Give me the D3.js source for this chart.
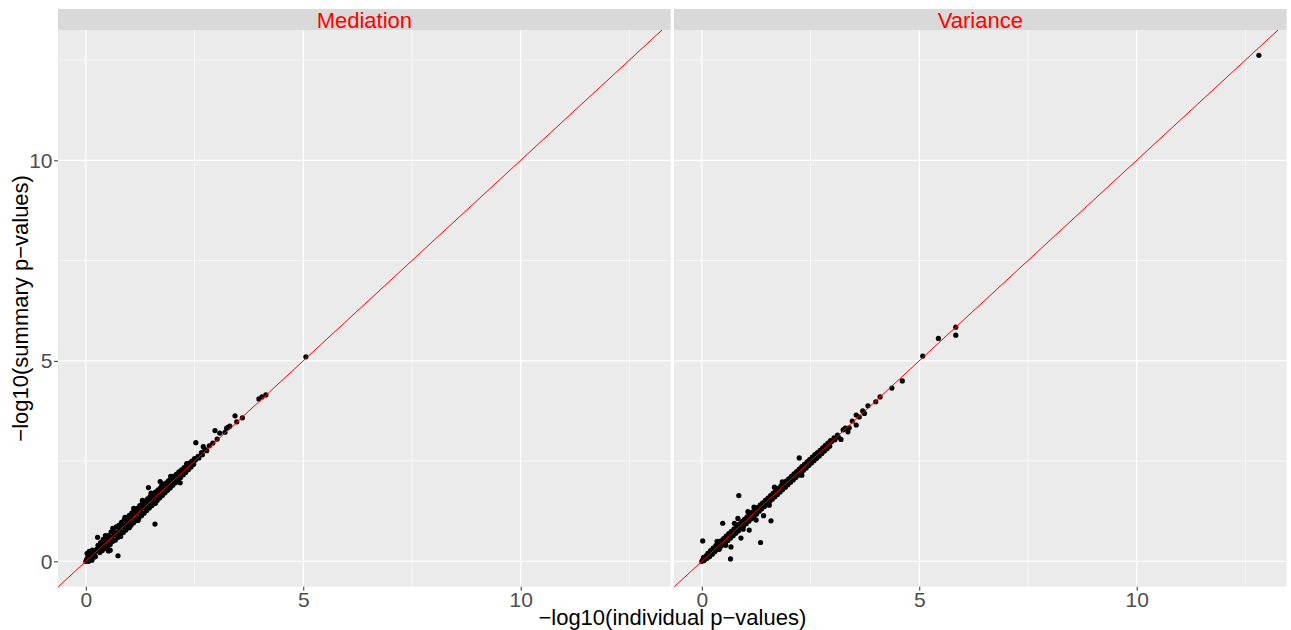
<!DOCTYPE html>
<html>
<head>
<meta charset="utf-8">
<script src="https://cdn.jsdelivr.net/npm/d3@7"></script>
<style>
  body { margin: 0; background: #fff; }
  svg { display: block; font-family: "Liberation Sans", Arial, sans-serif; }
  .tick text { fill: #4d4d4d; font-size: 21px; }
  .tick line { stroke: #333; }
</style>
</head>
<body>
<svg></svg>
<script>
const width = 1291;
const height = 630;

const facetNames = ['Mediation', 'Variance'];
const majorTicks = [0, 5, 10];
const minorTicks = [2.5, 7.5, 12.5];
const xDomain = [-0.64, 13.45];
const yDomain = [-0.632, 13.25];

// [individual, summary] -log10 p-values
const medPoints = [
  [0,0],[0.02,0.05],[0.05,0.12],[0.03,0.2],[0.08,0.25],[0.1,0.05],[0.12,0.15],[0.15,0.28],
  [0.18,0.1],[0.2,0.22],[0.06,0.0],[0.14,0.03],[0.22,0.12],[0.25,0.3],[0.04,0.08],[0.09,0.02],
  [0.28,0.40],[0.30,0.30],[0.32,0.22],[0.34,0.47],[0.36,0.36],[0.38,0.27],
  [0.40,0.55],[0.42,0.43],[0.44,0.32],[0.46,0.60],[0.48,0.47],[0.50,0.38],
  [0.52,0.64],[0.54,0.55],[0.56,0.42],[0.58,0.73],[0.60,0.60],[0.62,0.50],
  [0.64,0.78],[0.66,0.67],[0.68,0.53],[0.70,0.86],[0.72,0.72],[0.74,0.60],
  [0.76,0.90],[0.78,0.79],[0.80,0.66],[0.82,0.97],[0.84,0.85],[0.86,0.72],
  [0.88,1.03],[0.90,0.90],[0.92,0.78],[0.94,1.09],[0.96,0.97],[0.98,0.85],
  [1.00,1.15],[1.02,1.02],[1.04,0.90],[1.06,1.21],[1.08,1.09],[1.10,0.96],
  [1.12,1.27],[1.14,1.14],[1.16,1.02],[1.18,1.32],[1.20,1.21],[1.22,1.08],
  [1.24,1.39],[1.26,1.26],[1.28,1.14],[1.30,1.44],[1.32,1.33],[1.34,1.20],
  [1.36,1.50],[1.38,1.38],[1.40,1.27],[1.42,1.56],[1.44,1.45],[1.46,1.33],
  [1.48,1.62],[1.50,1.50],[1.52,1.39],[1.54,1.67],[1.56,1.57],[1.58,1.45],
  [1.60,1.73],[1.62,1.62],[1.64,1.52],[1.66,1.78],[1.68,1.69],[1.70,1.58],
  [1.72,1.84],[1.74,1.74],[1.76,1.64],[1.78,1.89],[1.80,1.81],[1.82,1.71],
  [1.84,1.95],[1.86,1.86],[1.88,1.77],[1.90,2.01],[1.92,1.93],[1.94,1.83],
  [1.96,2.06],[1.98,1.98],[2.00,1.90],[2.02,2.12],[2.04,2.05],[2.06,1.96],
  [2.08,2.17],[2.10,2.10],[2.12,2.03],[2.14,2.23],[2.16,2.17],[2.18,2.09],
  [2.20,2.28],[2.22,2.22],[2.24,2.16],[2.26,2.34],[2.28,2.29],[2.30,2.22],
  [2.32,2.39],[2.34,2.34],[2.36,2.29],[2.38,2.45],[2.40,2.41],[2.42,2.35],
  [2.44,2.50],[2.46,2.46],[2.48,2.42],[2.50,2.56],[2.52,2.53],
  [2.58,2.62],[2.60,2.58],[2.66,2.71],[2.68,2.66],[2.74,2.79],[2.78,2.76],
  [2.84,2.88],[2.92,2.95],[2.70,2.86],[3.02,3.05],
  [2.97,3.26],[3.08,3.20],[3.24,3.32],[3.27,3.34],[3.31,3.37],[3.20,3.22],
  [3.43,3.63],[3.47,3.48],[3.60,3.58],[3.98,4.05],[4.05,4.10],[4.14,4.15],[5.06,5.10],
  [0.62,0.82],[0.90,1.10],[1.10,1.32],[1.30,1.52],[1.50,1.70],[1.75,1.93],
  [0.80,0.62],[1.20,1.02],[1.00,0.84],[1.60,1.45],[0.45,0.64],[1.95,2.12],
  [0.27,0.60],[0.52,0.26],[0.56,0.28],[0.74,0.14],[1.44,1.84],[1.59,0.93],
  [2.53,2.96],[2.17,1.96],[1.71,1.99],[2.32,2.44]
];

const varPoints = [
  [0,0],[0.02,0.04],[0.05,0.02],[0.04,0.10],[0.08,0.06],[0.10,0.14],[0.12,0.08],
  [0.14,0.20],[0.16,0.15],[0.18,0.12],[0.20,0.27],[0.22,0.22],[0.24,0.18],
  [0.26,0.33],[0.28,0.28],[0.30,0.24],[0.32,0.39],[0.34,0.34],[0.36,0.30],
  [0.38,0.45],[0.40,0.40],[0.42,0.35],[0.44,0.51],[0.46,0.46],[0.48,0.41],
  [0.50,0.57],[0.52,0.52],[0.54,0.46],[0.56,0.63],[0.58,0.58],[0.60,0.52],
  [0.62,0.69],[0.64,0.64],[0.66,0.58],[0.68,0.75],[0.70,0.70],[0.72,0.64],
  [0.74,0.81],[0.76,0.76],[0.78,0.70],[0.80,0.87],[0.82,0.82],[0.84,0.76],
  [0.86,0.93],[0.88,0.88],[0.90,0.82],[0.92,0.99],[0.94,0.94],[0.96,0.88],
  [0.98,1.05],[1.00,1.00],[1.02,0.94],[1.04,1.11],[1.06,1.06],[1.08,1.00],
  [1.10,1.17],[1.12,1.12],[1.14,1.06],[1.16,1.23],[1.18,1.18],[1.20,1.12],
  [1.22,1.29],[1.24,1.24],[1.26,1.18],[1.28,1.34],[1.30,1.30],[1.32,1.25],
  [1.34,1.40],[1.36,1.36],[1.38,1.31],[1.40,1.46],[1.42,1.42],[1.44,1.37],
  [1.46,1.52],[1.48,1.48],[1.50,1.43],[1.52,1.58],[1.54,1.54],[1.56,1.49],
  [1.58,1.64],[1.60,1.60],[1.62,1.55],[1.64,1.70],[1.66,1.66],[1.68,1.61],
  [1.70,1.76],[1.72,1.72],[1.74,1.67],[1.76,1.82],[1.78,1.78],[1.80,1.73],
  [1.82,1.88],[1.84,1.84],[1.86,1.79],[1.88,1.94],[1.90,1.90],[1.92,1.85],
  [1.94,2.00],[1.96,1.96],[1.98,1.91],[2.00,2.06],[2.02,2.02],[2.04,1.97],
  [2.06,2.12],[2.08,2.08],[2.10,2.03],[2.12,2.18],[2.14,2.14],[2.16,2.09],
  [2.18,2.24],[2.20,2.20],[2.22,2.15],[2.24,2.30],[2.26,2.26],[2.28,2.21],
  [2.30,2.36],[2.32,2.32],[2.34,2.27],[2.36,2.42],[2.38,2.38],[2.40,2.33],
  [2.42,2.48],[2.44,2.44],[2.46,2.39],[2.48,2.54],[2.50,2.50],[2.52,2.45],
  [2.54,2.60],[2.56,2.56],[2.58,2.51],[2.60,2.66],[2.62,2.62],[2.64,2.57],
  [2.66,2.71],[2.68,2.68],[2.70,2.63],[2.72,2.77],[2.74,2.74],[2.76,2.69],
  [2.78,2.83],[2.80,2.80],[2.82,2.75],[2.84,2.89],[2.86,2.86],[2.88,2.81],
  [2.90,2.95],[2.92,2.92],[2.94,2.87],[2.96,3.01],[2.98,2.98],
  [3.04,3.08],[3.06,3.03],[3.12,3.15],[3.14,3.10],
  [3.20,3.04],[3.36,3.23],[3.39,3.33],[3.55,3.40],[3.55,3.65],[3.74,3.69],[3.82,3.88],
  [3.46,3.50],[3.62,3.60],[3.30,3.32],[3.25,3.28],[3.70,3.75],[4.00,3.98],
  [4.10,4.10],[4.37,4.32],[4.61,4.50],[5.08,5.12],[5.44,5.56],[5.84,5.84],[5.84,5.64],
  [12.81,12.62],
  [0.35,0.50],[0.55,0.40],[0.75,0.95],[0.95,0.80],[1.20,1.35],[1.25,1.03],[0.40,0.30],
  [1.55,1.40],[1.85,1.98],[2.30,2.15],[1.09,0.78],[1.67,1.85],
  [0.02,0.51],[0.85,1.64],[0.48,0.95],[0.83,1.07],[0.66,0.06],[0.67,0.36],[1.35,0.47],
  [0.90,0.58],[1.42,1.14],[1.59,1.01],[2.24,2.58],[1.06,1.24]
];

const facetData = [medPoints, varPoints];

const panelW = 612.7;
const panelLefts = [58, 674];
const panelTop = 30;
const panelBottom = 586.7;
const stripTop = 9;

const svg = d3.select('svg')
  .attr('width', width)
  .attr('height', height);

svg.append('rect')
  .attr('width', width)
  .attr('height', height)
  .attr('fill', '#fff');

const yScale = d3.scaleLinear()
  .domain(yDomain)
  .range([panelBottom, panelTop]);

facetNames.forEach((name, i) => {
  const left = panelLefts[i];
  const xScale = d3.scaleLinear()
    .domain(xDomain)
    .range([left, left + panelW]);

  const g = svg.append('g').attr('class', 'panel');

  g.append('rect')
    .attr('x', left)
    .attr('y', panelTop)
    .attr('width', panelW)
    .attr('height', panelBottom - panelTop)
    .attr('fill', '#ebebeb');

  // grid
  g.selectAll('.vminor').data(minorTicks).enter().append('line')
    .attr('x1', d => xScale(d)).attr('x2', d => xScale(d))
    .attr('y1', panelTop).attr('y2', panelBottom)
    .attr('stroke', '#fff').attr('stroke-width', 0.6);
  g.selectAll('.hminor').data(minorTicks).enter().append('line')
    .attr('x1', left).attr('x2', left + panelW)
    .attr('y1', d => yScale(d)).attr('y2', d => yScale(d))
    .attr('stroke', '#fff').attr('stroke-width', 0.6);
  g.selectAll('.vmajor').data(majorTicks).enter().append('line')
    .attr('x1', d => xScale(d)).attr('x2', d => xScale(d))
    .attr('y1', panelTop).attr('y2', panelBottom)
    .attr('stroke', '#fff').attr('stroke-width', 1.2);
  g.selectAll('.hmajor').data(majorTicks).enter().append('line')
    .attr('x1', left).attr('x2', left + panelW)
    .attr('y1', d => yScale(d)).attr('y2', d => yScale(d))
    .attr('stroke', '#fff').attr('stroke-width', 1.2);

  const clipId = 'clip' + i;
  svg.append('clipPath').attr('id', clipId)
    .append('rect')
    .attr('x', left).attr('y', panelTop)
    .attr('width', panelW).attr('height', panelBottom - panelTop);

  g.append('g')
    .attr('clip-path', `url(#${clipId})`)
    .selectAll('circle')
    .data(facetData[i])
    .enter().append('circle')
    .attr('cx', d => xScale(d[0]))
    .attr('cy', d => yScale(d[1]))
    .attr('r', 2.6)
    .attr('fill', '#000');

  // y = x reference line
  g.append('line')
    .attr('clip-path', `url(#${clipId})`)
    .attr('x1', xScale(-1)).attr('y1', yScale(-1))
    .attr('x2', xScale(14)).attr('y2', yScale(14))
    .attr('stroke', '#ff0000')
    .attr('stroke-width', 1);

  // strip
  g.append('rect')
    .attr('x', left)
    .attr('y', stripTop)
    .attr('width', panelW)
    .attr('height', panelTop - stripTop)
    .attr('fill', '#d9d9d9');
  g.append('text')
    .attr('x', left + panelW / 2)
    .attr('y', 27.5)
    .attr('text-anchor', 'middle')
    .attr('fill', '#ff0000')
    .attr('font-size', 22)
    .text(name);

  const xAxis = d3.axisBottom(xScale)
    .tickValues(majorTicks)
    .tickSize(4)
    .tickPadding(1.5);
  g.append('g')
    .attr('transform', `translate(0,${panelBottom})`)
    .call(xAxis)
    .call(a => a.select('.domain').remove());
});

const yAxis = d3.axisLeft(yScale)
  .tickValues(majorTicks)
  .tickSize(4)
  .tickPadding(1.5);
svg.append('g')
  .attr('transform', `translate(${panelLefts[0]},0)`)
  .call(yAxis)
  .call(a => a.select('.domain').remove());

svg.append('text')
  .attr('x', (panelLefts[0] + panelLefts[1] + panelW) / 2)
  .attr('y', 625)
  .attr('text-anchor', 'middle')
  .attr('font-size', 22)
  .attr('fill', '#000')
  .text('\u2212log10(individual p\u2212values)');

svg.append('text')
  .attr('transform', `translate(28,${(panelTop + panelBottom) / 2}) rotate(-90)`)
  .attr('text-anchor', 'middle')
  .attr('font-size', 22)
  .attr('fill', '#000')
  .text('\u2212log10(summary p\u2212values)');
</script>
</body>
</html>
